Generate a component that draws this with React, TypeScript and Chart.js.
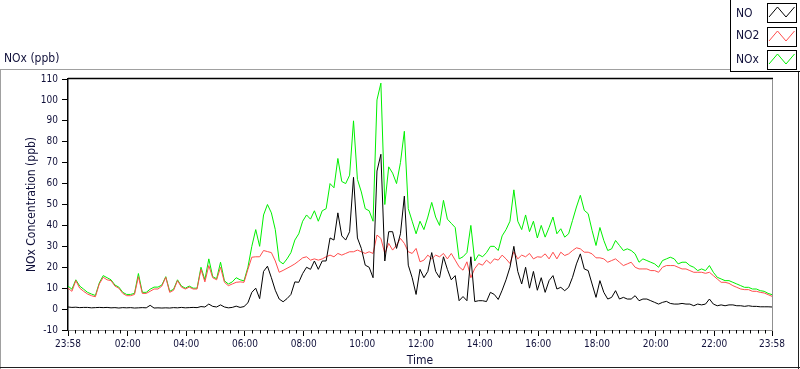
import React, { useEffect, useRef } from "react";
import { Chart, registerables } from "chart.js";

Chart.register(...registerables);

// ---- data (ppb), sampled every 8 minutes starting at 23:58 (-2 min) ----
const SAMPLE_START_MIN = -2;
const SAMPLE_STEP_MIN = 8;

const NO = [
  1, 0.8, 0.9, 0.7, 0.8, 0.8, 0.6, 0.7, 0.8, 0.7, 0.8, 0.6, 0.7, 0.5, 0.7, 0.6, 0.7, 0.5, 0.6, 0.7,
  0.6, 1.8, 0.5, 0.6, 0.5, 0.6, 0.5, 0.7, 0.6, 0.8, 0.6, 0.7, 0.8, 0.7, 1.2, 1.0, 2.4, 1.3, 1.0, 2.0,
  1.0, 0.6, 0.8, 1.4, 0.8, 1.2,
  3, 8, 10, 5, 18, 20.5, 15, 9, 4.8, 3.5, 5, 7, 13, 12.8, 17,
  20, 19, 23, 19, 23, 23, 34, 33, 46, 35, 33, 37, 63, 34, 29, 21, 20, 15, 66, 74,
  23, 37, 37, 29, 36, 54, 21, 15, 7, 19, 15, 18, 27, 18, 15, 25, 19, 14, 16, 4,
  6, 4, 25, 3.6, 4, 4, 3.6, 8, 7, 4.6, 9, 14, 20, 30, 18, 12, 20, 10, 18, 9,
  15, 8, 13.6, 16, 9.6, 10.4, 8.8, 10.4, 15.2, 21.6, 26.4, 19.2, 18.4, 12, 5.6, 13.6, 8, 4.8, 5.6, 8.8,
  4.8, 5.6, 4.8, 4.8, 6.4, 4, 4.8, 4.8, 4, 3.2, 2.4, 3.2, 3.7, 2.7, 2.4, 2.4, 2.7, 2.4, 2.4, 1.6,
  2.4, 2, 2.4, 4.8, 2.4, 1.6, 2, 1.6, 2, 2, 1.6, 1.6, 1.3, 1.6, 1.3, 1.3, 1.1, 1.1, 1.1, 1,
];

const NO2 = [
  10, 8.5, 13.6, 10, 8.5, 7.2, 6.4, 5.9, 12, 15.2, 14, 13.6, 11, 10, 7.5, 6.4, 6.4, 7, 15.5, 7.5,
  7.5, 8.5, 9.6, 9.6, 11, 15.2, 8, 9, 13.6, 10.5, 9.6, 10.5, 9.6, 9.6, 19, 13, 20.8, 15, 14, 20,
  12.8, 11.2, 12, 12.8, 13, 12.8, 19, 24.8, 25, 25, 28, 27.5, 27, 23, 17.6, 18.5, 19.5, 20.5, 21.6, 23,
  24.5,
  25, 23.4, 24, 23.4, 24, 25, 25.8, 25, 26.6, 25.8, 26.6, 27.4, 27.4, 28.2, 27.4, 26.6, 27.4, 26.6, 35.4, 33.8,
  26.6, 31.4, 28.2, 30.6, 33.8, 31.4, 27.4, 26.6, 29, 22.6, 23.4, 25.8, 24, 25.8, 25, 26.6, 24, 26.6, 23.4, 20.2,
  18.6, 22.6, 15, 19.4, 21.8, 21, 23.4, 21.8, 24, 23.4, 25.8, 24, 21.8, 27.4, 24, 25.8, 25, 26.6, 24, 25,
  24.8, 26.4, 24, 27.2, 24, 27.2, 25.6, 26.4, 28, 29.3, 28.8, 27.2, 27.2, 26.4, 24.5, 24.5, 24, 22.4, 23.2, 24,
  22.4, 20.8, 21.6, 22.4, 20, 19.2, 19.2, 19.2, 18.4, 18.4, 17.6, 20, 20.8, 20.8, 20.8, 20, 19.2, 19.2, 18.4, 17.6,
  17.6, 17.6, 17.1, 17.6, 16, 14.4, 12.8, 12.8, 12.3, 11.2, 10.4, 9.6, 9.3, 9.3, 8.5, 8.5, 8, 7.7, 6.9, 6.1,
];

const NOX = [
  11, 9.5, 14, 11, 9.5, 8, 7.2, 6.5, 12.5, 16, 15, 14, 11.5, 10.5, 8, 7, 7, 7.5, 17, 8,
  8, 9.5, 10.5, 10.5, 11.5, 15.5, 8.5, 9.5, 14, 11, 10, 11, 10, 10, 20, 14, 24, 15.5, 14.5, 22.4,
  13.5, 12, 13, 15, 14, 13.5, 20, 30, 38, 30, 45, 50, 46, 38, 23, 21.6, 24, 27, 33, 36,
  42,
  45, 43, 47, 42, 47, 48, 60, 58, 72, 61, 60, 64, 90, 62, 56, 48, 47, 42, 100, 108,
  50, 68, 65, 60, 70, 85, 48, 42, 36, 42, 38, 44, 51, 44, 40, 52, 43, 41, 39, 24,
  25, 27, 40, 23, 26, 25, 27, 30, 30, 28, 35, 38, 42, 57, 42, 38, 45, 37, 42, 34,
  40, 34.4, 39, 44, 36, 38.4, 34.4, 36, 42.4, 48.8, 54.4, 47.2, 45.6, 37.6, 30.4, 39, 32.8, 28, 28.8, 32.8,
  30.4, 28, 28.8, 28, 26.4, 22.4, 24, 23.2, 22.4, 21.6, 20, 23.2, 24, 24.8, 24, 21.6, 22.4, 22.4, 20.8, 20,
  18.4, 19.2, 18.4, 20.8, 17.6, 15.2, 14.4, 13.6, 13.6, 12.8, 12, 11.2, 10.4, 10.4, 9.6, 9.6, 8.8, 8.5, 7.5, 6.9,
];

const SERIES_NAMES = ["NO", "NO2", "NOx"];
const X_TICK_VALUES = [-2, 120, 240, 360, 480, 600, 720, 840, 960, 1080, 1200, 1320, 1438];
const X_TICK_LABELS = ["23:58", "02:00", "04:00", "06:00", "08:00", "10:00", "12:00", "14:00", "16:00", "18:00", "20:00", "22:00", "23:58"];
const Y_MIN = -10;
const Y_MAX = 110;
const Y_STEP = 10;

const COLORS = ["#000000", "#ff4d4d", "#00f000"];
const FONT_FAMILY = '"DejaVu Sans Condensed", "DejaVu Sans", sans-serif';

function toPoints(values: number[]) {
  return values.map((v, i) => ({ x: SAMPLE_START_MIN + SAMPLE_STEP_MIN * i, y: v }));
}

const framePlugin = {
  id: "labviewFrame",
  beforeDraw(chart: any) {
    const { ctx, width, height } = chart;
    ctx.save();
    ctx.fillStyle = "#ffffff";
    ctx.fillRect(0, 0, width, height);
    ctx.restore();
  },
  afterDraw(chart: any) {
    const { ctx, chartArea: a } = chart;
    const xs = chart.scales.x;
    ctx.save();
    const line = (x1: number, y1: number, x2: number, y2: number, color: string, w = 1) => {
      ctx.beginPath();
      ctx.strokeStyle = color;
      ctx.lineWidth = w;
      ctx.moveTo(x1, y1);
      ctx.lineTo(x2, y2);
      ctx.stroke();
    };
    // outer panel frame
    line(0, 69.5, 730, 69.5, "#a0a0a0");
    line(0.5, 69, 0.5, 369, "#a0a0a0");
    line(0, 367.5, 800, 367.5, "#202020");
    line(798.5, 72, 798.5, 369, "#202020");
    // plot frame: top black, right gray
    line(a.left, a.top - 0.5, a.right + 1, a.top - 0.5, "#000000", 1.5);
    line(Math.round(a.right) + 0.5, a.top, Math.round(a.right) + 0.5, a.bottom, "#909090");
    // minor x ticks (7 between each labelled tick)
    for (let k = 0; k < X_TICK_VALUES.length - 1; k++) {
      const v0 = X_TICK_VALUES[k];
      const v1 = X_TICK_VALUES[k + 1];
      for (let m = 1; m < 8; m++) {
        const px = Math.round(xs.getPixelForValue(v0 + ((v1 - v0) * m) / 8)) + 0.5;
        line(px, a.bottom, px, a.bottom + 3.5, "#000000");
      }
    }
    // top-left unit label
    ctx.fillStyle = "#10103a";
    ctx.font = `12px ${FONT_FAMILY}`;
    ctx.textBaseline = "middle";
    ctx.textAlign = "left";
    ctx.fillText("NOx (ppb)", 4, 59);

    // legend panel
    ctx.fillStyle = "#ffffff";
    ctx.fillRect(731, 0, 69, 71);
    line(730.5, 0, 730.5, 72, "#000000");
    line(730, 71.5, 800, 71.5, "#000000");
    const rowTops = [3, 27, 50];
    const textYs = [13.5, 36, 59.5];
    SERIES_NAMES.forEach((name, i) => {
      ctx.fillStyle = "#10103a";
      ctx.font = `12px ${FONT_FAMILY}`;
      ctx.textBaseline = "middle";
      ctx.textAlign = "left";
      ctx.fillText(name, 736, textYs[i]);
      const top = rowTops[i];
      ctx.strokeStyle = "#000000";
      ctx.lineWidth = 1;
      ctx.strokeRect(767.5, top + 0.5, 29, 19);
      ctx.beginPath();
      ctx.strokeStyle = COLORS[i];
      ctx.lineWidth = 1;
      ctx.moveTo(769, top + 14);
      ctx.lineTo(777.5, top + 4);
      ctx.lineTo(786, top + 14);
      ctx.lineTo(794.5, top + 4);
      ctx.stroke();
    });
    ctx.restore();
  },
};

export default function App() {
  const canvasRef = useRef<HTMLCanvasElement | null>(null);

  useEffect(() => {
    document.body.style.margin = "0";
    const canvas = canvasRef.current;
    if (!canvas) return;
    const seriesValues = [NO, NO2, NOX];
    const chart = new Chart(canvas, {
      type: "line",
      data: {
        datasets: SERIES_NAMES.map((name, i) => ({
          label: name,
          data: toPoints(seriesValues[i]),
          borderColor: COLORS[i],
          backgroundColor: COLORS[i],
          borderWidth: 1,
          pointRadius: 0,
          tension: 0,
          fill: false,
        })),
      },
      options: {
        animation: false,
        responsive: false,
        maintainAspectRatio: false,
        devicePixelRatio: 1,
        events: [],
        layout: { padding: { top: 79, right: 28, left: 0, bottom: 0 } },
        plugins: { legend: { display: false }, tooltip: { enabled: false }, title: { display: false } },
        scales: {
          x: {
            type: "linear",
            min: X_TICK_VALUES[0],
            max: X_TICK_VALUES[X_TICK_VALUES.length - 1],
            afterBuildTicks: (s: any) => {
              s.ticks = X_TICK_VALUES.map((v) => ({ value: v }));
            },
            afterFit: (s: any) => {
              s.height = 39;
            },
            ticks: {
              autoSkip: false,
              maxRotation: 0,
              minRotation: 0,
              padding: 2,
              color: "#10103a",
              font: { family: FONT_FAMILY, size: 10 },
              callback: (_v: any, idx: number) => X_TICK_LABELS[idx],
            },
            grid: { drawOnChartArea: false, drawTicks: true, tickLength: 6, tickColor: "#000000" },
            border: { display: true, color: "#909090", width: 1 },
            title: {
              display: true,
              text: "Time",
              color: "#10103a",
              font: { family: FONT_FAMILY, size: 12 },
              padding: { top: 0, bottom: 1 },
            },
          },
          y: {
            type: "linear",
            min: Y_MIN,
            max: Y_MAX,
            afterFit: (s: any) => {
              s.width = 68;
            },
            ticks: {
              stepSize: Y_STEP,
              padding: 4,
              color: "#10103a",
              font: { family: FONT_FAMILY, size: 10 },
            },
            grid: { drawOnChartArea: false, drawTicks: true, tickLength: 6, tickColor: "#000000" },
            border: { display: true, color: "#000000", width: 1.5 },
            title: {
              display: true,
              text: "NOx Concentration (ppb)",
              color: "#10103a",
              font: { family: FONT_FAMILY, size: 12 },
              padding: { top: 25, bottom: 0 },
            },
          },
        },
      },
      plugins: [framePlugin],
    } as any);
    return () => chart.destroy();
  }, []);

  return (
    <div style={{ position: "relative", width: 800, height: 369, overflow: "hidden" }}>
      <canvas ref={canvasRef} width={800} height={369} style={{ display: "block", width: 800, height: 369 }} />
    </div>
  );
}
